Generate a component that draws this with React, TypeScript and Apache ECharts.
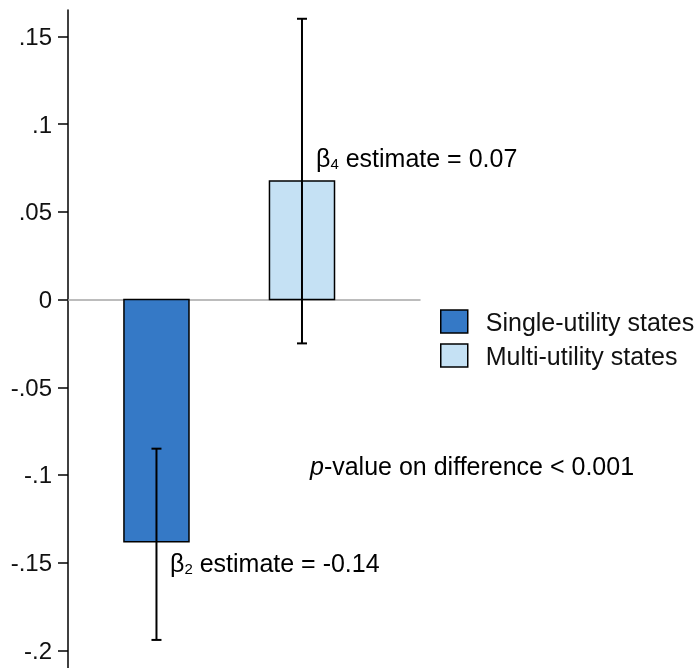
import React, { useEffect, useRef } from "react";
import * as echarts from "echarts";

const categories = ["Single-utility states", "Multi-utility states"];
const estimates = [-0.138, 0.0675];
const ciLow = [-0.194, -0.025];
const ciHigh = [-0.085, 0.16];
const colors = ["#3579c6", "#c5e1f4"];
const tickValues = [-0.2, -0.15, -0.1, -0.05, 0, 0.05, 0.1, 0.15];
const tickLabels = ["-.2", "-.15", "-.1", "-.05", "0", ".05", ".1", ".15"];
const annotations = [
  { sub: "4", text: " estimate = 0.07" },
  { sub: "2", text: " estimate = -0.14" },
];
const pValueText = "-value on difference < 0.001";

const FONT = "Liberation Sans, Arial, sans-serif";
const FS = 25;
const BAR_W = 0.447;
const CAP = 10;

export default function App() {
  const ref = useRef<HTMLDivElement>(null);
  useEffect(() => {
    if (!ref.current) return;
    const chart = echarts.init(ref.current, undefined, { renderer: "svg" });
    const series = categories.map((name, i) => ({
      type: "custom",
      name,
      data: [[i, estimates[i], ciLow[i], ciHigh[i]]],
      encode: { x: 0, y: 1 },
      itemStyle: { color: colors[i] },
      renderItem: (params: any, api: any) => {
        const x = api.value(0);
        const v = api.value(1);
        const lo = api.value(2);
        const hi = api.value(3);
        const p0 = api.coord([x, 0]);
        const pv = api.coord([x, v]);
        const pl = api.coord([x, lo]);
        const ph = api.coord([x, hi]);
        const w = api.size([BAR_W, 0])[0];
        return {
          type: "group",
          children: [
            {
              type: "rect",
              shape: { x: p0[0] - w / 2, y: Math.min(p0[1], pv[1]), width: w, height: Math.abs(pv[1] - p0[1]) },
              style: { fill: colors[i], stroke: "#000", lineWidth: 1.5 },
            },
            {
              type: "line",
              shape: { x1: pl[0], y1: pl[1], x2: ph[0], y2: ph[1] },
              style: { stroke: "#000", lineWidth: 2 },
            },
            {
              type: "line",
              shape: { x1: pl[0] - CAP / 2, y1: pl[1], x2: pl[0] + CAP / 2, y2: pl[1] },
              style: { stroke: "#000", lineWidth: 2 },
            },
            {
              type: "line",
              shape: { x1: ph[0] - CAP / 2, y1: ph[1], x2: ph[0] + CAP / 2, y2: ph[1] },
              style: { stroke: "#000", lineWidth: 2 },
            },
          ],
        };
      },
    }));

    const rich = {
      b: { fontSize: FS, fontFamily: FONT, color: "#111" },
      s: { fontSize: 15, fontFamily: FONT, color: "#111", padding: [10, 0, 0, 0] },
      t: { fontSize: FS, fontFamily: FONT, color: "#111" },
      i: { fontSize: FS, fontFamily: FONT, color: "#111", fontStyle: "italic" },
    };

    chart.setOption({
      animation: false,
      grid: { left: 68, right: 274, top: 10, height: 660 },
      xAxis: {
        type: "value",
        min: -0.608,
        max: 1.811,
        axisLine: { show: true, onZero: true, lineStyle: { color: "#a6a6a6", width: 1.5 } },
        axisTick: { show: false },
        axisLabel: { show: false },
        splitLine: { show: false },
      },
      yAxis: {
        type: "value",
        min: -0.21,
        max: 0.165,
        axisLine: { show: true, onZero: false, lineStyle: { color: "#000", width: 1.5 } },
        axisTick: { show: true, length: 10, customValues: tickValues, lineStyle: { color: "#000", width: 1.5 } },
        axisLabel: {
          show: true,
          customValues: tickValues,
          margin: 16,
          fontSize: 24,
          fontFamily: FONT,
          color: "#111",
          formatter: (v: number) => {
            const idx = tickValues.findIndex((t) => Math.abs(t - v) < 1e-9);
            return idx >= 0 ? tickLabels[idx] : "";
          },
        },
        splitLine: { show: false },
      },
      legend: {
        orient: "vertical",
        left: 435,
        top: 304,
        itemWidth: 27,
        itemHeight: 23,
        itemGap: 9,
        icon: "rect",
        textStyle: { fontSize: FS, fontFamily: FONT, color: "#111", padding: [0, 0, 0, 13] },
        data: categories.map((name, i) => ({
          name,
          itemStyle: { color: colors[i], borderColor: "#000", borderWidth: 1.5 },
        })),
      },
      graphic: [
        {
          type: "text",
          x: 316,
          y: 158,
          style: {
            text: `{b|β}{s|${annotations[0].sub}}{t|${annotations[0].text}}`,
            rich,
            verticalAlign: "middle",
          },
        },
        {
          type: "text",
          x: 170,
          y: 563,
          style: {
            text: `{b|β}{s|${annotations[1].sub}}{t|${annotations[1].text}}`,
            rich,
            verticalAlign: "middle",
          },
        },
        {
          type: "text",
          x: 310,
          y: 466,
          style: {
            text: `{i|p}{t|${pValueText}}`,
            rich,
            verticalAlign: "middle",
          },
        },
      ],
      series,
    });
    return () => chart.dispose();
  }, []);
  return <div ref={ref} style={{ position: "fixed", left: 0, top: 0, width: 694, height: 668 }} />;
}
